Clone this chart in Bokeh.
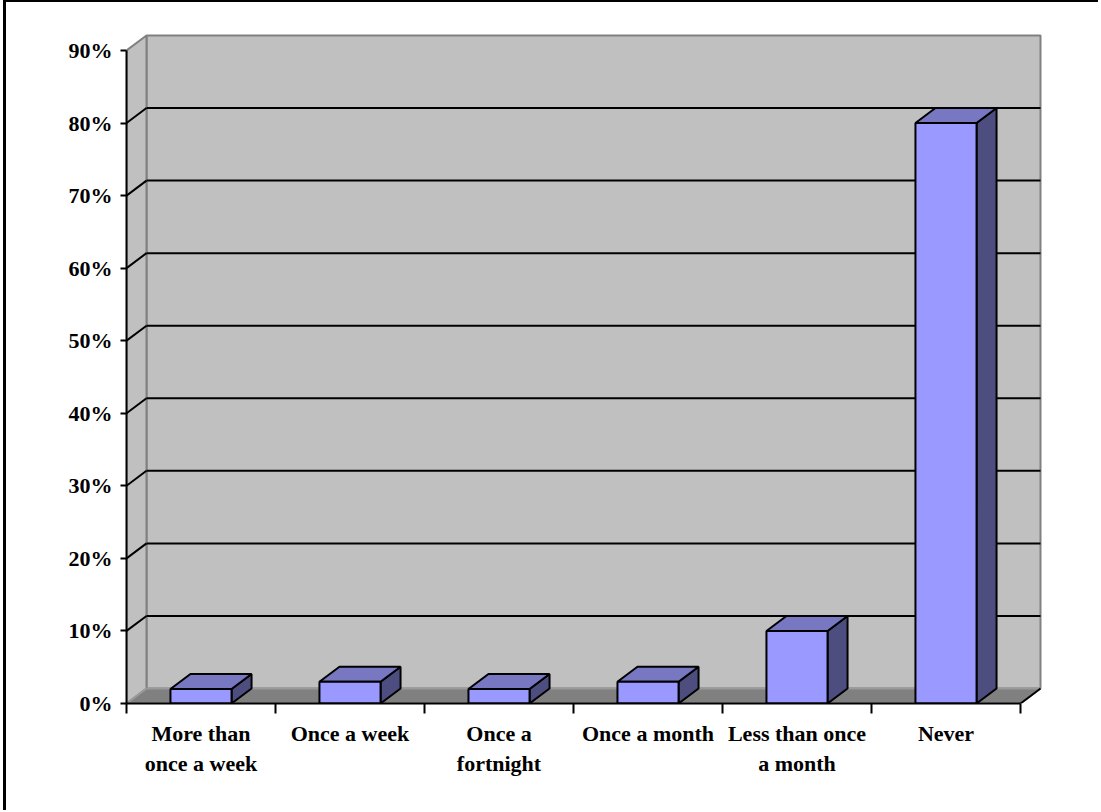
from bokeh.plotting import figure
from bokeh.models import FixedTicker, LinearAxis, PrintfTickFormatter, Range1d
from bokeh.embed import file_html
from bokeh.resources import INLINE

# ---- data -------------------------------------------------------------
categories = ["More than\nonce a week", "Once a week", "Once a\nfortnight",
              "Once a month", "Less than once\na month", "Never"]
shares = [2, 3, 2, 3, 10, 80]          # percent of respondents
y_ticks = [0, 10, 20, 30, 40, 50, 60, 70, 80, 90]

# ---- look -------------------------------------------------------------
FONT = "Liberation Serif"
WALL = "#C0C0C0"
WALL_EDGE = "#808080"
FLOOR = "#808080"
FRONT = "#9999FF"
TOP = "#7777C2"
SIDE = "#4D4D80"

PX_PER_CAT = 149.0        # horizontal pixels per category slot
PX_PER_PCT = 7.256        # vertical pixels per percentage point
BAR_HALF = 0.205          # half bar width, in category units
DX = 20 / PX_PER_CAT      # depth offset (x), category units
DY = 15 / PX_PER_PCT      # depth offset (y), percent units

PAD_L, PAD_T = 3, 0       # page border drawn as CSS around the canvas
BORDER_L, BORDER_T = 3, 2
W, H = 1101 - PAD_L - BORDER_L, 812 - PAD_T - BORDER_T
LEFT = 126 - PAD_L - BORDER_L
BOTTOM = 109

n = len(categories)
ymax = y_ticks[-1]

p = figure(width=W, height=H, output_backend="svg", toolbar_location=None,
           x_range=Range1d(0, (W - LEFT) / PX_PER_CAT),
           y_range=Range1d(0, (H - BOTTOM) / PX_PER_PCT),
           min_border_left=LEFT, min_border_bottom=BOTTOM,
           min_border_top=0, min_border_right=0,
           x_axis_location=None, y_axis_location=None)
p.grid.visible = False
p.outline_line_color = None
p.background_fill_color = "white"
p.border_fill_color = "white"
p.styles = {"margin-left": f"{PAD_L}px",
            "border-left": f"{BORDER_L}px solid black",
            "border-top": f"{BORDER_T}px solid black"}

# ---- walls and floor --------------------------------------------------
p.quad(left=[DX], right=[n + DX], bottom=[DY], top=[ymax + DY],
       fill_color=WALL, line_color=WALL_EDGE, line_width=2)
p.patch(x=[0, DX, DX, 0], y=[0, DY, ymax + DY, ymax],
        fill_color=WALL, line_color=WALL_EDGE, line_width=2)

grid_vals = y_ticks[1:-1]
p.segment(x0=[DX] * len(grid_vals), x1=[n + DX] * len(grid_vals),
          y0=[v + DY for v in grid_vals], y1=[v + DY for v in grid_vals],
          line_color="black", line_width=2)
p.segment(x0=[0] * len(grid_vals), x1=[DX] * len(grid_vals),
          y0=grid_vals, y1=[v + DY for v in grid_vals],
          line_color="black", line_width=2)

p.patch(x=[0, n, n + DX, DX], y=[0, 0, DY, DY],
        fill_color=FLOOR, line_color="#9A9A9A", line_width=2)
p.segment(x0=[n], y0=[0], x1=[n + DX], y1=[DY], line_color="black", line_width=2)

# ---- 3-D bars ---------------------------------------------------------
centers = [i + 0.5 for i in range(n)]
x0s = [c - BAR_HALF for c in centers]
x1s = [c + BAR_HALF for c in centers]

side_xs = [[a, a + DX, a + DX, a] for a in x1s]
side_ys = [[0, DY, v + DY, v] for v in shares]
p.patches(xs=side_xs, ys=side_ys, fill_color=SIDE, line_color="black", line_width=2)

top_xs = [[a, b, b + DX, a + DX] for a, b in zip(x0s, x1s)]
top_ys = [[v, v, v + DY, v + DY] for v in shares]
p.patches(xs=top_xs, ys=top_ys, fill_color=TOP, line_color="black", line_width=2)

p.quad(left=x0s, right=x1s, bottom=[0] * n, top=shares,
       fill_color=FRONT, line_color="black", line_width=2)

# ---- axes -------------------------------------------------------------
yax = LinearAxis(ticker=FixedTicker(ticks=y_ticks, minor_ticks=[]),
                 formatter=PrintfTickFormatter(format="%d%%"),
                 bounds=(0, ymax),
                 axis_line_color="black", axis_line_width=2,
                 major_tick_out=6, major_tick_in=0, major_tick_line_width=2,
                 minor_tick_out=0, minor_tick_in=0,
                 major_label_standoff=8,
                 major_label_text_font=FONT,
                 major_label_text_font_style="bold",
                 major_label_text_font_size="22px",
                 major_label_text_color="black")
p.add_layout(yax, "left")

xax = LinearAxis(ticker=FixedTicker(ticks=centers, minor_ticks=list(range(n + 1))),
                 major_label_overrides={c: lab for c, lab in zip(centers, categories)},
                 bounds=(0, n),
                 axis_line_color="black", axis_line_width=2,
                 major_tick_out=0, major_tick_in=0,
                 minor_tick_out=10, minor_tick_in=0,
                 minor_tick_line_color="black", minor_tick_line_width=2,
                 major_label_standoff=7,
                 major_label_text_font=FONT,
                 major_label_text_font_style="bold",
                 major_label_text_font_size="22px",
                 major_label_text_line_height=1.2,
                 major_label_text_color="black")
p.add_layout(xax, "below")

open("out.html", "w").write(file_html(p, INLINE))
